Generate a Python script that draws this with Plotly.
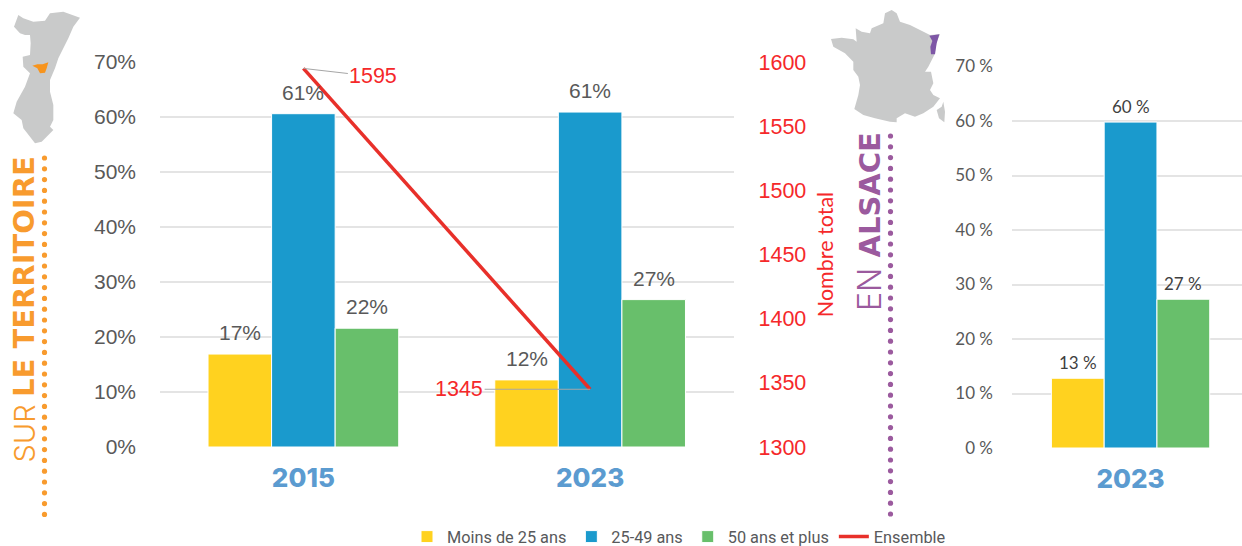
import plotly.graph_objects as go
import numpy as np

W, H = 1242, 546
# ---- data
years_left = ["2015", "2023"]
years_right = ["2023"]
series_names = ["Moins de 25 ans", "25-49 ans", "50 ans et plus"]
series_colors = ["#FFD21F", "#1A9ACD", "#68BF6B"]
left_values = [[16.9, 12.2], [60.6, 60.9], [21.6, 26.8]]
left_labels = [["17%", "12%"], ["61%", "61%"], ["22%", "27%"]]
right_values = [[12.8], [59.8], [27.3]]
right_labels = [["13 %"], ["60 %"], ["27 %"]]
ensemble = [1595, 1345]

BARGAP = 0.335
RED = "#F5282A"
GREY = "#595959"
ORANGE = "#F89B2E"
PURPLE = "#9B5A9E"
MAPGREY = "#C9CACA"

def px(x):
    return x / W
def py(y):
    return 1 - y / H

fig = go.Figure()

for i, name in enumerate(series_names):
    fig.add_trace(go.Bar(x=years_left, y=left_values[i], name=name, xaxis="x", yaxis="y",
                         marker=dict(color=series_colors[i], line=dict(color="white", width=1)),
                         legendgroup=name))
    fig.add_trace(go.Bar(x=years_right, y=right_values[i], name=name, xaxis="x2", yaxis="y3",
                         marker=dict(color=series_colors[i], line=dict(color="white", width=1)),
                         legendgroup=name, showlegend=False))

fig.add_trace(go.Scatter(x=years_left, y=ensemble, name="Ensemble", mode="lines", xaxis="x", yaxis="y2",
                         line=dict(color="#E8302A", width=3.5)))

ann = []
barw = (1 - BARGAP) / 3
for i in range(3):
    for j in range(2):
        ann.append(dict(x=j + (i - 1) * barw, y=left_values[i][j], xref="x", yref="y", text=left_labels[i][j],
                        showarrow=False, yshift=21.5, xanchor="center", yanchor="middle",
                        font=dict(family="Liberation Sans", size=21, color=GREY)))
    ann.append(dict(x=(i - 1) * barw, y=right_values[i][0], xref="x2", yref="y3", text=right_labels[i][0],
                    showarrow=False, yshift=15.5, xanchor="center", yanchor="middle",
                    font=dict(family="Lato", size=17, color="#3F3F3F")))

# leader labels of the line
ann.append(dict(x=0, y=ensemble[0], xref="x", yref="y2", text=str(ensemble[0]), showarrow=True, arrowhead=0,
                ax=70, ay=8, arrowcolor="#A6A6A6", arrowwidth=1,
                font=dict(family="Liberation Sans", size=21.5, color=RED)))
ann.append(dict(x=1, y=ensemble[1], xref="x", yref="y2", text=str(ensemble[1]), showarrow=True, arrowhead=0,
                ax=-131, ay=0, arrowcolor="#A6A6A6", arrowwidth=1,
                font=dict(family="Liberation Sans", size=21.5, color=RED)))

# side titles
def side(text, x, y, size, weight, color, family="Inter"):
    ann.append(dict(x=px(x), y=py(y), xref="paper", yref="paper", text=text, textangle=-90, showarrow=False,
                    xanchor="center", yanchor="middle",
                    font=dict(family=family, size=size, color=color, weight=weight)))
side("SUR", 23.5, 434, 29, 300, ORANGE)
side("LE TERRITOIRE", 23.5, 276.5, 29, 700, ORANGE, "DejaVu Sans")
side("EN", 869, 290, 32, 300, PURPLE)
side("ALSACE", 869, 195.5, 29, 700, PURPLE, "DejaVu Sans")

shapes = []
# dotted rules
def dots(x, y0, y1, color):
    for y in np.arange(y0, y1 + 0.1, 10.8):
        shapes.append(dict(type="circle", xref="paper", yref="paper", x0=px(x - 2.6), x1=px(x + 2.6),
                           y0=py(y + 2.6), y1=py(y - 2.6), fillcolor=color, line=dict(width=0)))
dots(44.5, 158, 518, ORANGE)
dots(890.5, 136, 518, PURPLE)

# little locator maps (pictograms)
def poly(points, ox, oy, color):
    path = "M" + " L".join(f"{px(ox + a / 3):.5f},{py(oy + b / 3):.5f}" for a, b in points) + " Z"
    shapes.append(dict(type="path", path=path, xref="paper", yref="paper", fillcolor=color, line=dict(width=0)))

alsace = [(55,30),(70,40),(100,50),(135,47),(150,25),(190,20),(240,38),(220,65),(205,100),(190,130),(175,160),
          (165,190),(150,225),(150,260),(160,300),(160,345),(150,365),(160,375),(140,395),(125,410),(105,415),
          (90,395),(70,370),(65,345),(40,325),(50,290),(75,245),(90,205),(70,185),(68,155),(90,150),(92,115),
          (90,90),(75,90),(60,85),(42,65)]
alsace_spot = [(97,182),(112,178),(128,178),(145,172),(140,190),(135,203),(120,205),(112,190)]
france = [(180,25),(200,15),(215,25),(225,50),(255,60),(285,75),(315,90),(345,88),(335,110),(328,150),(310,185),
          (300,200),(318,200),(325,235),(315,255),(325,270),(345,280),(325,305),(295,325),(270,335),(240,325),
          (215,340),(215,352),(195,350),(150,340),(115,330),(88,312),(100,270),(105,240),(100,215),(85,195),
          (85,170),(60,145),(25,125),(18,102),(50,98),(85,103),(95,110),(92,70),(110,80),(135,85),(140,70),(175,55)]
corsica = [(355,290),(360,320),(358,352),(342,340),(335,315),(350,305)]
france_spot = [(313,92),(343,88),(335,115),(330,148),(318,148),(316,125),(322,108)]
poly(alsace, 0, 5, MAPGREY)
poly(alsace_spot, 0, 5, "#F7941D")
poly(france, 825, 5, MAPGREY)
poly(corsica, 825, 5, MAPGREY)
poly(france_spot, 825, 5, "#7E57A6")

grid = dict(showgrid=True, gridcolor="#E4E4E4", gridwidth=1.5, zeroline=False, showline=False)
xfont = dict(family="Inter", size=26, color="#5B9BD0", weight=800)

fig.update_layout(
    width=W, height=H, margin=dict(l=0, r=0, t=0, b=0, autoexpand=False), autosize=False,
    paper_bgcolor="white", plot_bgcolor="white", barmode="group", bargap=BARGAP, bargroupgap=0,
    xaxis=dict(domain=[px(160), px(733.5)], type="category", range=[-0.5, 1.5], tickfont=xfont, automargin=False,
               showgrid=False, zeroline=False, ticks="", ticklabelstandoff=13, anchor="y"),
    yaxis=dict(domain=[py(447), py(62)], range=[0, 70], dtick=10, tick0=0, ticksuffix="%", automargin=False,
               tickfont=dict(family="Liberation Sans", size=21, color=GREY), ticklabelstandoff=23, anchor="x", **grid),
    yaxis2=dict(domain=[py(447), py(62)], range=[1300, 1600], dtick=50, tick0=1300, overlaying="y", side="right",
                anchor="x", showgrid=False, zeroline=False, ticklabelstandoff=24, automargin=False,
                tickfont=dict(family="Liberation Sans", size=21.5, color=RED),
                title=dict(text="Nombre total", standoff=12, font=dict(family="Lato", size=21.5, color=RED))),
    xaxis2=dict(domain=[px(1012), px(1242)], type="category", range=[-0.498, 0.468], tickfont=xfont, automargin=False,
                showgrid=False, zeroline=False, ticks="", ticklabelstandoff=13, anchor="y3"),
    yaxis3=dict(domain=[py(448), py(66.5)], range=[0, 70], dtick=10, tick0=0, ticksuffix=" %", anchor="x2", automargin=False,
                tickfont=dict(family="Lato", size=17, color=GREY), ticklabelstandoff=18, **grid),
    legend=dict(orientation="h", x=px(407), xanchor="left", y=py(537), yanchor="middle",
                font=dict(family="Roboto", size=16.3, color="#58595B"), itemwidth=30, bgcolor="rgba(0,0,0,0)",
                traceorder="normal"),
    annotations=ann, shapes=shapes, showlegend=True,
)

fig.write_html("out.html", post_script="document.body.style.margin='0';", config=dict(displayModeBar=False))
